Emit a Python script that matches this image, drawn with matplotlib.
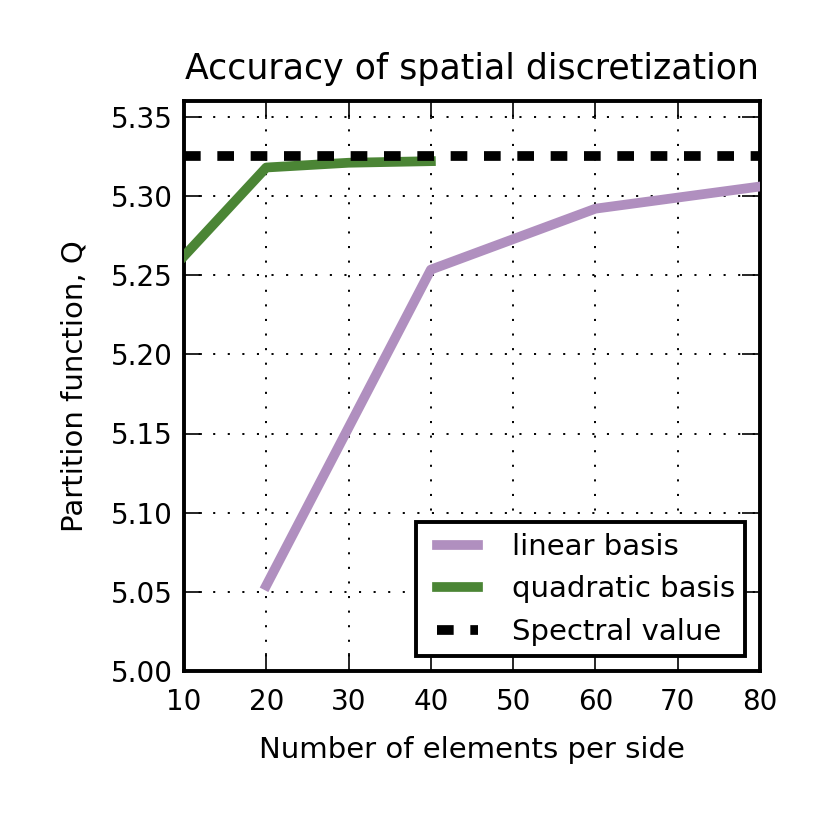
import matplotlib
matplotlib.use("Agg")
import matplotlib.pyplot as plt
from matplotlib.lines import Line2D
from matplotlib.legend_handler import HandlerLine2D

# values
n_linear = [20, 40, 60, 80]
Q_linear = [5.054, 5.2535, 5.292, 5.306]
n_quad = [10, 20, 30, 40]
Q_quad = [5.262, 5.318, 5.321, 5.322]
Q_spectral = 5.3254
x_ticks = [10, 20, 30, 40, 50, 60, 70, 80]
y_ticks = [5.00, 5.05, 5.10, 5.15, 5.20, 5.25, 5.30, 5.35]

plt.rcParams['font.family'] = 'DejaVu Sans'
plt.rcParams['lines.scale_dashes'] = False

fig = plt.figure(figsize=(8.31, 8.31), dpi=100)
ax = fig.add_axes([184/831, 1 - 671/831, (760-184)/831, (671-101)/831])

ax.plot(n_linear, Q_linear, color='#b08fbf', lw=7, label='linear basis', zorder=3)
ax.plot(n_quad, Q_quad, color='#4b8535', lw=7, label='quadratic basis', zorder=3)
ax.plot([x_ticks[0], x_ticks[-1]], [Q_spectral, Q_spectral], color='black', lw=7,
        dashes=(12, 12), label='Spectral value', zorder=4)

ax.set_xlim(10, 80)
ax.set_ylim(5.00, 5.36)
ax.set_xticks(x_ticks)
ax.set_yticks(y_ticks)
ax.set_yticklabels(['%.2f' % v for v in y_ticks])

ax.grid(True, color='black', lw=1.4, dashes=(1.5, 9))
ax.set_axisbelow(True)
for s in ax.spines.values():
    s.set_linewidth(2.8)
ax.tick_params(direction='in', top=True, right=True, length=13, width=1.2,
               labelsize=20)
ax.tick_params(axis='x', pad=12)
ax.tick_params(axis='y', pad=8)

ax.set_xlabel('Number of elements per side', fontsize=21, labelpad=15)
ax.set_ylabel('Partition function, Q', fontsize=21, labelpad=16)
ax.set_title('Accuracy of spatial discretization', fontsize=25, pad=16)

# legend handle starts a bit in from the frame like the original
leg = ax.legend(loc='lower right', fontsize=21, fancybox=False, framealpha=1,
                edgecolor='black', handlelength=1.78, handletextpad=1.15,
                labelspacing=0.5, borderaxespad=0.5, borderpad=0.36,
                handler_map={Line2D: HandlerLine2D(xpad=0.38)})
leg.get_frame().set_linewidth(2.8)

fig.savefig('out.png', dpi=100)
